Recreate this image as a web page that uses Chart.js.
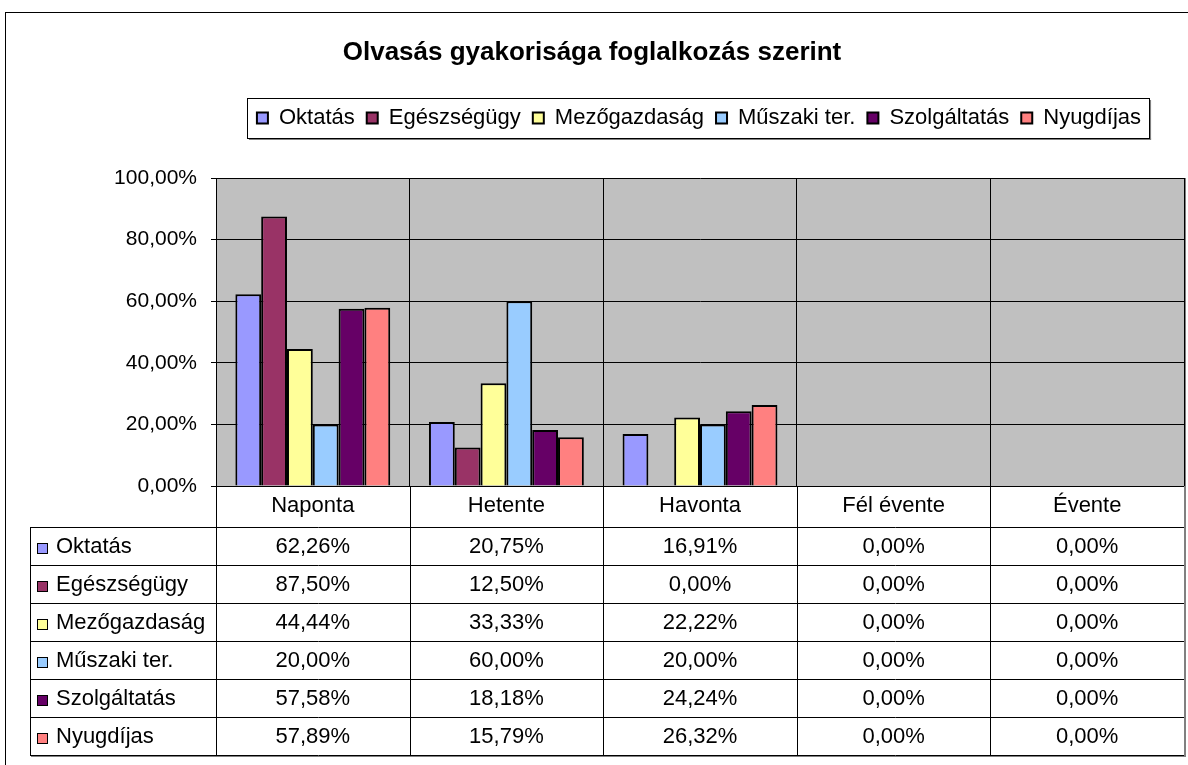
<!DOCTYPE html>
<html>
<head>
<meta charset="utf-8">
<script src="https://cdn.jsdelivr.net/npm/chart.js@4.4.1/dist/chart.umd.min.js"></script>
<style>
  html, body { margin: 0; padding: 0; background: #fff; }
  #wrap { width: 1188px; height: 765px; }
</style>
</head>
<body>
<div id="wrap"><canvas id="myChart" width="1188" height="765"></canvas></div>
<script>
//chart values
const categories = ['Naponta', 'Hetente', 'Havonta', 'Fél évente', 'Évente'];
const seriesNames = ['Oktatás', 'Egészségügy', 'Mezőgazdaság', 'Műszaki ter.', 'Szolgáltatás', 'Nyugdíjas'];
const oktatas = [62.26, 20.75, 16.91, 0, 0];
const egeszsegugy = [87.50, 12.50, 0, 0, 0];
const mezogazdasag = [44.44, 33.33, 22.22, 0, 0];
const muszaki = [20.00, 60.00, 20.00, 0, 0];
const szolgaltatas = [57.58, 18.18, 24.24, 0, 0];
const nyugdijas = [57.89, 15.79, 26.32, 0, 0];
const yTicks = [0, 20, 40, 60, 80, 100];

const seriesValues = [oktatas, egeszsegugy, mezogazdasag, muszaki, szolgaltatas, nyugdijas];
const colors = ['#9999FF', '#993366', '#FFFF99', '#99CCFF', '#660066', '#FF8080'];

const FONT = "'Liberation Sans', Arial, sans-serif";
const ROW_H = 38;
const AXIS_H = 41;

//format like 62,26%
function pct(v) {
  return v.toFixed(2).replace('.', ',') + '%';
}

//frame, plot background, legend box and data table
const excelLook = {
  id: 'excelLook',
  afterLayout(chart) {
    // legend sits higher and right of centre in the original
    const lg = chart.legend;
    lg.left += 107; lg.right += 107;
    lg.top -= 39; lg.bottom -= 39;
  },
  beforeDraw(chart) {
    const ctx = chart.ctx;
    const a = chart.chartArea;
    ctx.save();
    ctx.fillStyle = '#fff';
    ctx.fillRect(0, 0, chart.width, chart.height);
    ctx.strokeStyle = '#000';
    ctx.lineWidth = 1;
    ctx.strokeRect(5.5, 12.5, 1400, 1000);
    ctx.fillStyle = '#C0C0C0';
    ctx.fillRect(a.left, a.top, a.right - a.left, a.bottom - a.top);
    ctx.fillStyle = '#808080';
    ctx.fillRect(a.right, a.top, 2, a.bottom - a.top + 1);
    ctx.restore();
  },
  afterDraw(chart) {
    const ctx = chart.ctx;
    const a = chart.chartArea;
    const xs = chart.scales.x;

    // legend border
    const hb = chart.legend.legendHitBoxes;
    if (hb && hb.length) {
      const l = Math.min(...hb.map(h => h.left)) - 10;
      const r = Math.max(...hb.map(h => h.left + h.width)) + 8;
      const tp = hb[0].top - 9;
      const bt = hb[0].top + hb[0].height + 9;
      ctx.save();
      ctx.fillStyle = '#808080';
      ctx.fillRect(l + 2, bt, r - l, 2);
      ctx.fillRect(r, tp + 2, 2, bt - tp);
      ctx.strokeStyle = '#000';
      ctx.lineWidth = 1;
      ctx.strokeRect(Math.round(l) + 0.5, Math.round(tp) + 0.5, Math.round(r - l), Math.round(bt - tp));
      ctx.restore();
    }

    // data table
    const tableTop = a.bottom + AXIS_H;
    const tableLeft = 30;
    const tableBottom = tableTop + ROW_H * seriesNames.length;
    const half = (xs.getPixelForValue(1) - xs.getPixelForValue(0)) / 2;

    ctx.save();
    ctx.strokeStyle = '#000';
    ctx.lineWidth = 1;
    ctx.beginPath();
    for (let i = 0; i <= seriesNames.length; i++) {
      const y = Math.round(tableTop + i * ROW_H) + 0.5;
      ctx.moveTo(tableLeft, y);
      ctx.lineTo(a.right, y);
    }
    ctx.moveTo(tableLeft + 0.5, tableTop);
    ctx.lineTo(tableLeft + 0.5, tableBottom);
    ctx.moveTo(Math.round(a.left) + 0.5, a.bottom);
    ctx.lineTo(Math.round(a.left) + 0.5, tableBottom);
    for (let c = 0; c < categories.length - 1; c++) {
      const x = Math.round(xs.getPixelForValue(c) + half) + 0.5;
      ctx.moveTo(x, a.bottom);
      ctx.lineTo(x, tableBottom);
    }
    ctx.stroke();
    ctx.fillStyle = '#808080';
    ctx.fillRect(a.right, a.bottom, 2, tableBottom - a.bottom + 2);
    ctx.fillRect(tableLeft + 1, tableBottom + 1, a.right - tableLeft, 1);

    ctx.font = '22px ' + FONT;
    ctx.textBaseline = 'middle';
    seriesNames.forEach((name, i) => {
      const rowTop = tableTop + i * ROW_H;
      const cy = rowTop + ROW_H / 2 + 1;
      ctx.fillStyle = colors[i];
      ctx.fillRect(37, rowTop + 16, 11, 11);
      ctx.strokeStyle = '#000';
      ctx.strokeRect(37.5, Math.round(rowTop + 16) + 0.5, 10, 10);
      ctx.fillStyle = '#000';
      ctx.textAlign = 'left';
      ctx.fillText(name, 56, cy);
      ctx.textAlign = 'center';
      seriesValues[i].forEach((v, c) => {
        ctx.fillText(pct(v), xs.getPixelForValue(c), cy);
      });
    });
    ctx.restore();
  }
};

const chart_data = {
  labels: categories,
  datasets: seriesNames.map((name, i) => ({
    label: name,
    data: seriesValues[i],
    backgroundColor: colors[i],
    borderColor: '#000',
    borderWidth: 2,
    categoryPercentage: 0.8,
    barPercentage: 1.0
  }))
};

const ctx = document.getElementById('myChart').getContext('2d');
const myChart = new Chart(ctx, {
  type: 'bar',
  data: chart_data,
  plugins: [excelLook],
  options: {
    responsive: false,
    animation: false,
    layout: {
      padding: {left: 0, right: 4, top: 0, bottom: 765 - 486 - AXIS_H}
    },
    plugins: {
      title: {
        display: true,
        text: 'Olvasás gyakorisága foglalkozás szerint',
        color: '#000',
        font: {family: FONT, size: 26, weight: 'bold'},
        padding: {top: 37, bottom: 65.8}
      },
      legend: {
        display: true,
        position: 'top',
        labels: {
          color: '#000',
          font: {family: FONT, size: 22},
          boxWidth: 11,
          boxHeight: 11,
          padding: 12
        }
      },
      tooltip: {enabled: false}
    },
    scales: {
      x: {
        grid: {color: '#000', offset: true, drawTicks: false},
        border: {color: '#000'},
        ticks: {color: '#000', font: {family: FONT, size: 22}, padding: 7},
        afterFit(s) { s.height = AXIS_H; }
      },
      y: {
        min: 0,
        max: 100,
        grid: {color: '#000', tickLength: 5},
        border: {color: '#000'},
        afterBuildTicks(s) { s.ticks = yTicks.map(v => ({value: v})); },
        ticks: {
          color: '#000',
          font: {family: FONT, size: 21},
          padding: 14,
          callback: v => pct(v)
        },
        afterFit(s) { s.width = 216; }
      }
    }
  }
});
</script>
</body>
</html>
